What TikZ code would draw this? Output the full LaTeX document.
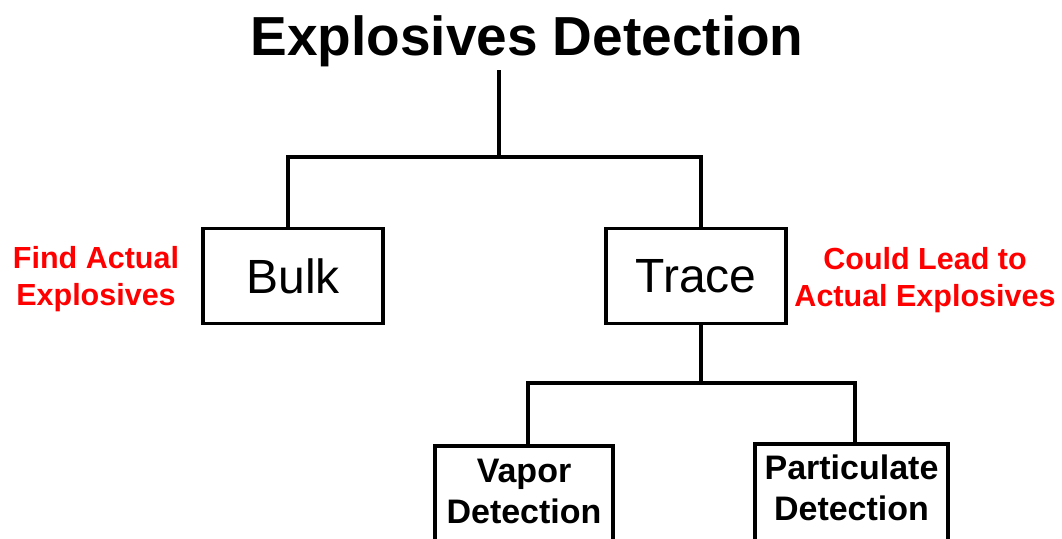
\documentclass[tikz,border=0pt]{standalone}
\usepackage{fontspec}
\setmainfont{Liberation Sans}
\usepackage{tikz}
\usepackage{xcolor}

\begin{document}
\begin{tikzpicture}[x=1pt, y=-1pt, line width=3.6pt,
	box/.style={draw, rectangle, inner sep=0pt},
	note/.style={text=red, font=\bfseries\fontsize{30.5}{37}\selectfont, align=center},
	sub/.style={box, anchor=north, align=center, font=\bfseries\fontsize{34}{41}\selectfont}]
	\useasboundingbox (0,0) rectangle (1062,538);
	\clip (0,0) rectangle (1062,538);
	% title
	\node[anchor=base, font=\bfseries\fontsize{55}{60}\selectfont] (title) at (527,55) {Explosives Detection};
	
	\node[box, minimum width=180pt, minimum height=95pt, font=\fontsize{48}{52}\selectfont] (bulk) at (293,276) {Bulk};
	\node[box, minimum width=180pt, minimum height=95pt, font=\fontsize{48}{52}\selectfont] (trace) at (696,276) {Trace};
	
	\node[note] (bulknote) at (96,279.5) {Find Actual\\Explosives};
	\node[note] (tracenote) at (925,280.5) {Could Lead to\\Actual Explosives};
	
	% lower boxes run off the bottom edge
	\node[sub, minimum width=178pt, minimum height=105pt] (vapor) at (524,444) {Vapor\\Detection\rule[-14pt]{0pt}{0pt}};
	\node[sub, minimum width=193pt, minimum height=102pt] (part) at (851.5,442) {Particulate\\Detection\rule[-14pt]{0pt}{0pt}};
	
	% connectors
	\coordinate (root) at (499,70);
	\coordinate (fork) at (499,157);
	\coordinate (split) at (701,383);
	
	\draw (root) -- (fork) -| ([xshift=-5pt]bulk.north);
	\draw (fork) -| ([xshift=5pt]trace.north);
	
	\draw ([xshift=5pt]trace.south) -- (split) -| ([xshift=4pt]vapor.north);
	\draw (split) -| ([xshift=3.5pt]part.north);
\end{tikzpicture}
\end{document}
